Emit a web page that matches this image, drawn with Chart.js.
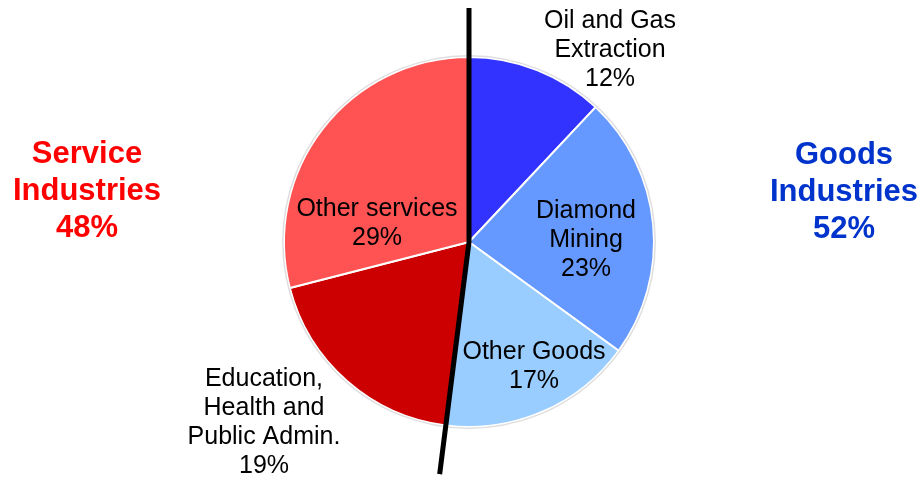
<!DOCTYPE html>
<html>
<head>
<meta charset="utf-8">
<script src="https://cdn.jsdelivr.net/npm/chart.js@4.4.1/dist/chart.umd.min.js"></script>
<style>
  html, body { margin: 0; padding: 0; background: #ffffff; }
  #wrap { width: 923px; height: 478px; }
</style>
</head>
<body>
<div id="wrap"><canvas id="c" width="923" height="478"></canvas></div>
<script>
// ---- data ----
const categories = [
  ["Oil and Gas", "Extraction"],
  ["Diamond", "Mining"],
  ["Other Goods"],
  ["Education,", "Health and", "Public Admin."],
  ["Other services"]
];
const shares = [12, 23, 17, 19, 29];
const sliceColors = ["#3333FF", "#6699FF", "#99CCFF", "#CC0000", "#FF5252"];
const groupNames = [["Service", "Industries"], ["Goods", "Industries"]];
const groupShares = [48, 52];
const groupColors = ["#FF0000", "#0033CC"];

// ---- layout (label anchors relative to pie centre, px) ----
const labelOffsets = [[141, -192], [117, -2], [65, 125], [-205, 181], [-92, -18]];
const groupOffsets = [[-382, -51], [375, -50]];

const FONT = '"Liberation Sans", Arial, Helvetica, sans-serif';

function drawBlock(ctx, lines, x, y, lh) {
  const n = lines.length;
  const start = y - (n - 1) * lh / 2;
  lines.forEach((t, i) => ctx.fillText(t, x, start + i * lh));
}

const overlay = {
  id: 'overlay',
  afterDatasetsDraw(chart) {
    const ctx = chart.ctx;
    const meta = chart.getDatasetMeta(0);
    const arc0 = meta.data[0];
    const cx = arc0.x, cy = arc0.y, R = arc0.outerRadius;

    // soft outer edge
    ctx.save();
    ctx.beginPath();
    ctx.arc(cx, cy, R + 1.2, 0, Math.PI * 2);
    ctx.strokeStyle = 'rgba(0,0,0,0.13)';
    ctx.lineWidth = 1.5;
    ctx.stroke();
    ctx.restore();

    // divider line between goods and services
    const goodsEndAngle = meta.data[2].endAngle;   // end of "Other Goods"
    const L = R * 1.265;
    ctx.save();
    ctx.beginPath();
    ctx.moveTo(cx, cy - L);
    ctx.lineTo(cx, cy);
    ctx.lineTo(cx + Math.cos(goodsEndAngle) * L, cy + Math.sin(goodsEndAngle) * L);
    ctx.strokeStyle = '#000000';
    ctx.lineWidth = 5;
    ctx.lineJoin = 'miter';
    ctx.stroke();
    ctx.restore();

    // slice labels
    ctx.save();
    ctx.fillStyle = '#000000';
    ctx.textAlign = 'center';
    ctx.textBaseline = 'middle';
    ctx.font = '25px ' + FONT;
    chart.data.datasets[0].data.forEach((v, i) => {
      const lines = categories[i].concat([v + '%']);
      drawBlock(ctx, lines, cx + labelOffsets[i][0], cy + labelOffsets[i][1], 29);
    });
    // group labels
    ctx.font = 'bold 31px ' + FONT;
    groupNames.forEach((g, i) => {
      ctx.fillStyle = groupColors[i];
      drawBlock(ctx, g.concat([groupShares[i] + '%']), cx + groupOffsets[i][0], cy + groupOffsets[i][1], 37);
    });
    ctx.restore();
  }
};

new Chart(document.getElementById('c'), {
  type: 'pie',
  data: {
    labels: categories.map(c => c.join(' ')),
    datasets: [{
      data: shares,
      backgroundColor: sliceColors,
      borderColor: '#ffffff',
      borderWidth: 2,
      hoverOffset: 0
    }]
  },
  options: {
    responsive: false,
    animation: false,
    events: [],
    layout: { padding: { top: 56, bottom: 50, left: 15, right: 0 } },
    plugins: {
      legend: { display: false },
      tooltip: { enabled: false },
      title: { display: false }
    }
  },
  plugins: [overlay]
});
</script>
</body>
</html>
